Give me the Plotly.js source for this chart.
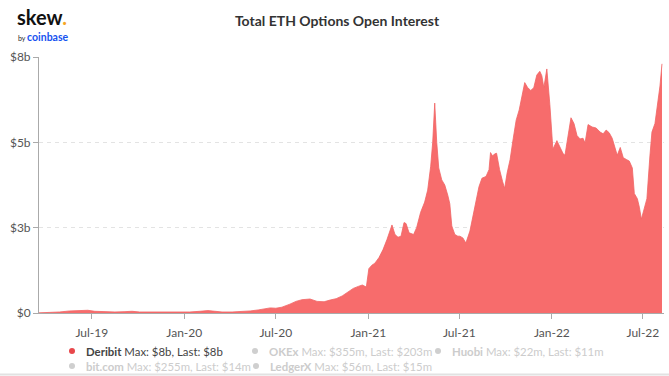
<!DOCTYPE html>
<html><head><meta charset="utf-8">
<script src="https://cdn.plot.ly/plotly-3.0.1.min.js"></script>
<style>html,body{margin:0;padding:0;background:#fff;overflow:hidden}#chart{width:669px;height:376px}</style>
</head><body><div id="chart"></div>
<script>
// Deribit ETH options open interest, billions USD
const dates = ['2019-03-18','2019-04-08','2019-04-28','2019-05-18','2019-06-07','2019-06-23','2019-07-07','2019-07-27','2019-08-16','2019-09-05','2019-09-19','2019-10-04','2019-10-24','2019-11-13','2019-12-03','2019-12-23','2020-01-12','2020-02-01','2020-02-17','2020-03-02','2020-03-16','2020-04-05','2020-04-25','2020-05-11','2020-05-27','2020-06-10','2020-06-20','2020-07-01','2020-07-13','2020-07-29','2020-08-10','2020-08-22','2020-09-07','2020-09-21','2020-10-05','2020-10-17','2020-10-29','2020-11-10','2020-11-22','2020-12-02','2020-12-12','2020-12-20','2020-12-28','2021-01-02','2021-01-08','2021-01-14','2021-01-22','2021-01-30','2021-02-07','2021-02-13','2021-02-17','2021-02-23','2021-03-01','2021-03-07','2021-03-13','2021-03-17','2021-03-23','2021-04-01','2021-04-07','2021-04-15','2021-04-23','2021-04-29','2021-05-05','2021-05-09','2021-05-13','2021-05-17','2021-05-21','2021-05-27','2021-06-02','2021-06-08','2021-06-12','2021-06-16','2021-06-22','2021-06-28','2021-07-02','2021-07-08','2021-07-14','2021-07-22','2021-07-30','2021-08-09','2021-08-15','2021-08-23','2021-08-29','2021-09-01','2021-09-05','2021-09-09','2021-09-13','2021-09-19','2021-09-25','2021-09-29','2021-10-04','2021-10-10','2021-10-16','2021-10-22','2021-10-28','2021-11-02','2021-11-08','2021-11-14','2021-11-20','2021-11-26','2021-12-02','2021-12-08','2021-12-12','2021-12-16','2021-12-22','2021-12-28','2022-01-03','2022-01-11','2022-01-17','2022-01-23','2022-01-27','2022-02-02','2022-02-08','2022-02-14','2022-02-20','2022-02-26','2022-03-04','2022-03-08','2022-03-14','2022-03-22','2022-03-30','2022-04-07','2022-04-13','2022-04-19','2022-04-25','2022-05-01','2022-05-07','2022-05-11','2022-05-17','2022-05-23','2022-05-29','2022-06-04','2022-06-10','2022-06-14','2022-06-20','2022-06-24','2022-06-28','2022-07-03','2022-07-09','2022-07-15','2022-07-19','2022-07-25','2022-07-31','2022-08-04','2022-08-08'];
const deribit = [0.005,0.01,0.03,0.06,0.07,0.08,0.05,0.03,0.03,0.04,0.05,0.03,0.03,0.02,0.02,0.03,0.03,0.05,0.07,0.05,0.03,0.03,0.04,0.06,0.09,0.13,0.15,0.14,0.17,0.26,0.34,0.39,0.41,0.34,0.33,0.38,0.42,0.50,0.62,0.72,0.78,0.82,0.76,1.30,1.40,1.46,1.62,1.85,2.15,2.45,2.58,2.30,2.22,2.25,2.65,2.62,2.35,2.30,2.50,2.95,3.25,3.60,4.30,5.00,6.15,5.00,4.25,3.90,3.75,3.45,3.20,2.55,2.30,2.25,2.25,2.20,2.05,2.40,2.95,3.70,3.95,4.00,4.20,4.70,4.60,4.66,4.68,4.20,3.85,3.65,4.10,4.50,5.10,5.65,5.95,6.30,6.75,6.60,6.52,6.60,6.97,7.08,6.95,6.60,7.15,6.10,4.80,5.05,4.85,4.68,4.62,5.20,5.72,5.55,5.20,5.10,5.12,4.98,5.52,5.45,5.42,5.30,5.25,5.36,5.28,5.12,4.85,4.62,4.85,4.55,4.50,4.45,4.25,3.50,3.35,3.10,2.75,3.05,3.35,4.60,5.30,5.55,6.20,6.65,7.30];

const tickDates = ['2019-07-01','2020-01-01','2020-07-01','2021-01-01','2021-07-01','2022-01-01','2022-07-01'];
const tickLabels = ['Jul-19','Jan-20','Jul-20','Jan-21','Jul-21','Jan-22','Jul-22'];
const yTickVals = [0,2.5,5,7.5];
const yTickLabels = ['$0','$3b','$5b','$8b'];

const exchanges = ['Deribit','OKEx','Huobi','bit.com','LedgerX'];
const exMax = ['$8b','$355m','$22m','$255m','$56m'];
const exLast = ['$8b','$203m','$11m','$14m','$15m'];
const exActive = [true,false,false,false,false];

const L=39, R=5, T=57, B=63, W=669, H=376;
const PW=W-L-R, PH=H-T-B;
const px = x => (x-L)/PW;
const py = y => (T+PH-y)/PH;

const red = 'rgb(247,108,108)';
const legendPos = [[72,351],[255,351],[438,351],[72,366],[256,366]];

const annotations = [];
const shapes = [];
exchanges.forEach((n,i)=>{
  const [dx,dy] = legendPos[i];
  const on = exActive[i];
  shapes.push({type:'circle',xref:'paper',yref:'paper',xsizemode:'pixel',ysizemode:'pixel',
    xanchor:px(dx),yanchor:py(dy),x0:-3,x1:3,y0:-3,y1:3,
    fillcolor:on?'#e8474b':'#cfcfcf',line:{width:0}});
  annotations.push({xref:'paper',yref:'paper',x:px(dx+12),y:py(dy),xanchor:'left',yanchor:'middle',showarrow:false,
    text:'<b>'+n+'</b> Max: '+exMax[i]+', Last: '+exLast[i],
    font:{family:'Lato',size:11.4,color:on?'#444':'#cccccc'}});
});
// logo: "skew." above "by coinbase"
annotations.push({xref:'paper',yref:'paper',x:px(16),y:py(29.5),xanchor:'left',yanchor:'bottom',showarrow:false,borderpad:0,
  text:'<b>skew</b><span style="color:#f5a623"><b>.</b></span>',font:{family:'Lato',size:20,color:'#111'}});
annotations.push({xref:'paper',yref:'paper',x:px(17),y:py(29.5),xanchor:'left',yanchor:'top',showarrow:false,borderpad:0,
  text:'<span style="font-size:7px;color:#222">by </span><b>coinbase</b>',font:{family:'Lato',size:10.5,color:'#1652f0'}});
shapes.push({type:'line',xref:'paper',yref:'paper',x0:px(0),x1:px(W),y0:py(374.5),y1:py(374.5),line:{color:'#e2e2e2',width:2}});

const trace = {x:dates,y:deribit,type:'scatter',mode:'lines',fill:'tozeroy',
  line:{color:'rgb(240,100,100)',width:0.8},fillcolor:red,name:'Deribit',hoverinfo:'x+y'};

const layout = {
  width:W,height:H,margin:{l:L,r:R,t:T,b:B},
  paper_bgcolor:'#fff',plot_bgcolor:'#fff',showlegend:false,
  font:{family:'Lato',size:12,color:'#555'},
  title:{text:'Total ETH Options Open Interest',xref:'container',yref:'container',x:337/W,y:(H-21)/H,
    xanchor:'center',yanchor:'middle',font:{family:'Lato',size:14,color:'#333',weight:700}},
  xaxis:{type:'date',range:['2019-03-18','2022-08-12'],tickvals:tickDates,ticktext:tickLabels,
    showgrid:false,zeroline:false,showline:true,linecolor:'#aaa',linewidth:1,ticks:'outside',ticklen:5,tickcolor:'#aaa',
    tickfont:{family:'Lato',size:12,color:'#555'},ticklabelstandoff:4},
  yaxis:{range:[0,7.5],tickvals:yTickVals,ticktext:yTickLabels,showgrid:true,gridcolor:'#e3e3e3',griddash:'4px,4px',
    zeroline:false,showline:true,linecolor:'#aaa',linewidth:1,ticks:'outside',ticklen:5,tickcolor:'#aaa',
    tickfont:{family:'Lato',size:12,color:'#555'}},
  annotations:annotations,shapes:shapes
};
Plotly.newPlot('chart',[trace],layout,{displayModeBar:false,staticPlot:true});
</script></body></html>
